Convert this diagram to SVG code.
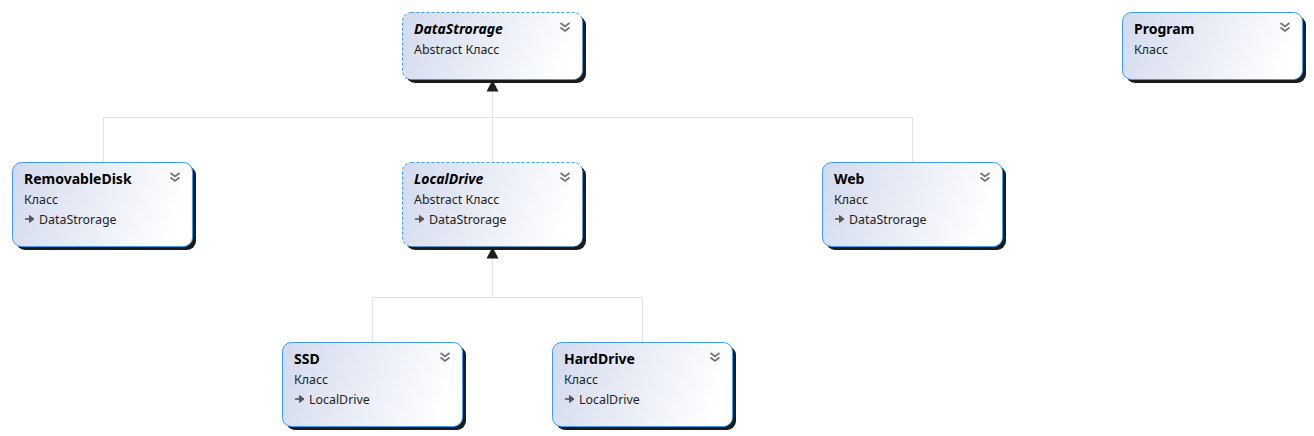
<svg xmlns="http://www.w3.org/2000/svg" width="1314" height="436" viewBox="0 0 1314 436">
<defs>
<linearGradient id="fillg" x1="0" y1="0" x2="1" y2="0.15">
<stop offset="0" stop-color="#d2daed"/>
<stop offset="1" stop-color="#ffffff"/>
</linearGradient>
<g id="chev">
<path d="M-4.5,-4 L0,-0.5 L4.5,-4 M-4.5,0.5 L0,4 L4.5,0.5" fill="none" stroke="#707070" stroke-width="1.6"/>
</g>
<g id="inh">
<path d="M-3,0 H2" fill="none" stroke="#555" stroke-width="1.6"/>
<path d="M1.5,-3.5 L6,0 L1.5,3.5 Z" fill="#555" stroke="#555" stroke-width="1" stroke-linejoin="round"/>
</g>
</defs>
<style>
.shadow{fill:#1b1b1b}
.box{fill:url(#fillg);stroke:#3d9cf0;stroke-width:1}
.abs{stroke-dasharray:3,2}
.title{font-family:"Noto Sans","Open Sans",sans-serif;font-size:14px;font-weight:bold;fill:#000}
.it{font-style:italic}
.sub{font-family:"Noto Sans","Open Sans",sans-serif;font-size:12.4px;fill:#1e1e1e}
.conn{fill:none;stroke:#e2e2e2;stroke-width:1}
.arrow{fill:#1e1e1e}
</style>
<rect width="1314" height="436" fill="#ffffff"/>
<g id="connectors">
<path class="conn" d="M492.5,91 V117.5 M103.5,117.5 H912.5 M103.5,117.5 V162 M492.5,117.5 V162 M912.5,117.5 V162"/>
<polygon class="arrow" points="492.5,80 486.5,91.5 498.5,91.5"/>
<path class="conn" d="M492.5,258 V297.5 M372.5,297.5 H642.5 M372.5,297.5 V342 M642.5,297.5 V342"/>
<polygon class="arrow" points="492.5,247 486.5,258.5 498.5,258.5"/>
</g>
<g id="DataStrorage">
<rect class="shadow" x="406" y="16" width="180" height="67" rx="9"/>
<rect class="box abs" x="402.5" y="12.5" width="180" height="67" rx="9"/>
<text class="title it" x="414" y="34">DataStrorage</text>
<text class="sub" x="414" y="54">Abstract Класс</text>
<use href="#chev" x="565" y="27"/>
</g>
<g id="Program">
<rect class="shadow" x="1126" y="16" width="180" height="67" rx="9"/>
<rect class="box" x="1122.5" y="12.5" width="180" height="67" rx="9"/>
<text class="title" x="1134" y="34">Program</text>
<text class="sub" x="1134" y="54">Класс</text>
<use href="#chev" x="1285" y="27"/>
</g>
<g id="RemovableDisk">
<rect class="shadow" x="16" y="166" width="180" height="84" rx="9"/>
<rect class="box" x="12.5" y="162.5" width="180" height="84" rx="9"/>
<text class="title" x="24" y="184">RemovableDisk</text>
<text class="sub" x="24" y="204">Класс</text>
<use href="#inh" x="28" y="219"/>
<text class="sub" x="39" y="224">DataStrorage</text>
<use href="#chev" x="175" y="177"/>
</g>
<g id="LocalDrive">
<rect class="shadow" x="406" y="166" width="180" height="84" rx="9"/>
<rect class="box abs" x="402.5" y="162.5" width="180" height="84" rx="9"/>
<text class="title it" x="414" y="184">LocalDrive</text>
<text class="sub" x="414" y="204">Abstract Класс</text>
<use href="#inh" x="418" y="219"/>
<text class="sub" x="429" y="224">DataStrorage</text>
<use href="#chev" x="565" y="177"/>
</g>
<g id="Web">
<rect class="shadow" x="826" y="166" width="180" height="84" rx="9"/>
<rect class="box" x="822.5" y="162.5" width="180" height="84" rx="9"/>
<text class="title" x="834" y="184">Web</text>
<text class="sub" x="834" y="204">Класс</text>
<use href="#inh" x="838" y="219"/>
<text class="sub" x="849" y="224">DataStrorage</text>
<use href="#chev" x="985" y="177"/>
</g>
<g id="SSD">
<rect class="shadow" x="286" y="346" width="180" height="84" rx="9"/>
<rect class="box" x="282.5" y="342.5" width="180" height="84" rx="9"/>
<text class="title" x="294" y="364">SSD</text>
<text class="sub" x="294" y="384">Класс</text>
<use href="#inh" x="298" y="399"/>
<text class="sub" x="309" y="404">LocalDrive</text>
<use href="#chev" x="445" y="357"/>
</g>
<g id="HardDrive">
<rect class="shadow" x="556" y="346" width="180" height="84" rx="9"/>
<rect class="box" x="552.5" y="342.5" width="180" height="84" rx="9"/>
<text class="title" x="564" y="364">HardDrive</text>
<text class="sub" x="564" y="384">Класс</text>
<use href="#inh" x="568" y="399"/>
<text class="sub" x="579" y="404">LocalDrive</text>
<use href="#chev" x="715" y="357"/>
</g>
</svg>
